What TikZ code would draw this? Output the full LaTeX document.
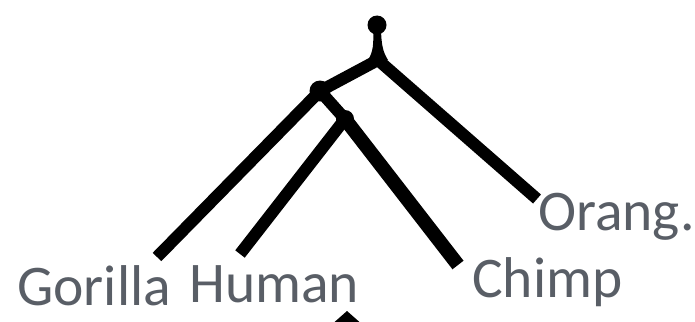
\documentclass[tikz,border=0pt]{standalone}
\usepackage{fontspec}
\newfontfamily\taxonfont{Carlito}
\usetikzlibrary{positioning}
\definecolor{taxonGray}{HTML}{595E66}
\tikzset{
    % tree strokes
    branch/.style={line width=12pt,line cap=butt,line join=round,draw=black},
    knot/.style={circle,fill=black,inner sep=0pt,minimum size=#1},
    knot/.default=18pt,
    % leaf labels
    taxon/.style={font=\taxonfont\fontsize{57.5}{62}\selectfont,text=taxonGray,inner sep=0pt,anchor=base west}
}

\begin{document}
\begin{tikzpicture}[x=1pt,y=-1pt]
  \clip (0,0) rectangle (695,321);

  % Leaf labels
  \node[taxon] (gorilla) at (17,305) {Gorilla};
  \node[taxon] (human) at (189,302) {Human};
  \node[taxon] (chimp) at (472,297) {Chimp};
  \node[taxon] (orang) at (538,230) {Orang.};

  % Branch tips just above the labels
  \coordinate (gorillaTip) at (157,257);
  \coordinate (humanTip) at (240,254);
  \coordinate (chimpTip) at (458,265);
  \coordinate (orangTip) at (537,199);

  % Internal nodes
  \node[knot=19pt] (root) at (377,25) {};
  \coordinate (split) at (378,60);
  \node[knot=21pt] (ghc) at (320,91) {};
  \node[knot=18pt] (hc) at (345,119) {};

  % Root stem, flaring into the first split
  \fill (root.center) ++(-4,0) .. controls (374,45) and (373,52) .. (368,60)
    -- (388,60) .. controls (383,52) and (381,45) .. (381,25) -- cycle;

  % Branches
  \draw[branch] (ghc.center) -- (split) -- (orangTip);
  \draw[branch] (gorillaTip) -- (ghc.center) -- (hc.center);
  \draw[branch] (humanTip) -- (hc.center);
  \draw[branch,line width=14pt] (hc.center) -- (chimpTip);

  % Pointer below the labels
  \fill (347,311) -- (381,341) -- (313,341) -- cycle;
\end{tikzpicture}
\end{document}
